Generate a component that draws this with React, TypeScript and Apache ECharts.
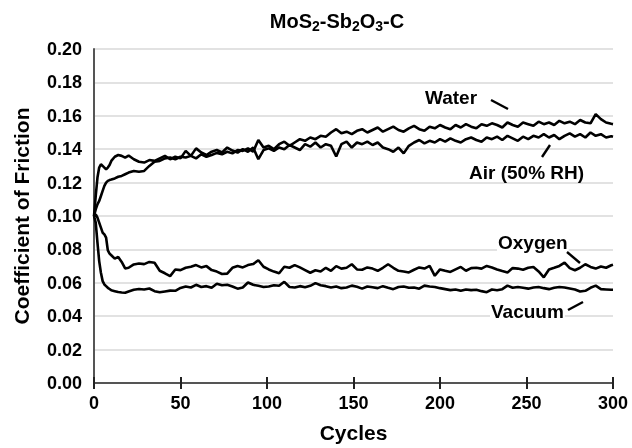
import React, { useEffect, useRef } from "react";
import * as echarts from "echarts";

const cycles = [
  0, 1, 2, 3, 4, 5, 6, 7, 8, 9, 10, 12, 14, 16, 18, 20,
  23, 26, 29, 32, 35, 38, 41, 44, 47, 50,
  53, 56, 59, 62, 65, 68, 71, 74, 77, 80,
  83, 86, 89, 92, 95, 98, 101, 104, 107, 110,
  113, 116, 119, 122, 125, 128, 131, 134, 137, 140,
  143, 146, 149, 152, 155, 158, 161, 164, 167, 170,
  173, 176, 179, 182, 185, 188, 191, 194, 197, 200,
  203, 206, 209, 212, 215, 218, 221, 224, 227, 230,
  233, 236, 239, 242, 245, 248, 251, 254, 257, 260,
  263, 266, 269, 272, 275, 278, 281, 284, 287, 290,
  293, 296, 299, 300,
];

const water = [
  0.100, 0.104, 0.107, 0.109, 0.112, 0.115, 0.118, 0.120, 0.121, 0.1215, 0.1218, 0.1225, 0.1235, 0.1240, 0.1250, 0.1260,
  0.1270, 0.1265, 0.1270, 0.1300, 0.1325, 0.1330, 0.1345, 0.1350, 0.1340, 0.1355,
  0.1350, 0.1360, 0.1345, 0.1370, 0.1355, 0.1365, 0.1378, 0.1370, 0.1385, 0.1375,
  0.1395, 0.1390, 0.1405, 0.1385, 0.1455, 0.1410, 0.1420, 0.1400, 0.1430, 0.1445,
  0.1420, 0.1440, 0.1460, 0.1450, 0.1470, 0.1460, 0.1480, 0.1475, 0.1500, 0.1520,
  0.1495, 0.1505, 0.1490, 0.1510, 0.1520, 0.1500, 0.1515, 0.1530, 0.1505, 0.1520,
  0.1535, 0.1515, 0.1505, 0.1525, 0.1540, 0.1520, 0.1510, 0.1535, 0.1525, 0.1545,
  0.1530, 0.1520, 0.1545, 0.1530, 0.1550, 0.1535, 0.1525, 0.1550, 0.1540, 0.1555,
  0.1545, 0.1530, 0.1560, 0.1545, 0.1535, 0.1560, 0.1550, 0.1540, 0.1565, 0.1550,
  0.1560, 0.1545, 0.1570, 0.1555, 0.1565, 0.1550, 0.1575, 0.1560, 0.1555, 0.1610,
  0.1580, 0.1560, 0.1552, 0.1550,
];

const air = [
  0.100, 0.112, 0.123, 0.129, 0.131, 0.130, 0.129, 0.128, 0.129, 0.1305, 0.1330, 0.1355, 0.1365, 0.1360, 0.1350, 0.1362,
  0.1340, 0.1325, 0.1320, 0.1335, 0.1330, 0.1345, 0.1360, 0.1340, 0.1355, 0.1345,
  0.1390, 0.1360, 0.1405, 0.1380, 0.1365, 0.1385, 0.1395, 0.1380, 0.1410, 0.1392,
  0.1380, 0.1400, 0.1385, 0.1410, 0.1340, 0.1395, 0.1405, 0.1390, 0.1410, 0.1400,
  0.1425, 0.1410, 0.1395, 0.1430, 0.1415, 0.1440, 0.1410, 0.1430, 0.1420, 0.1356,
  0.1430, 0.1445, 0.1410, 0.1440, 0.1430, 0.1445, 0.1425, 0.1440, 0.1410, 0.1400,
  0.1385, 0.1410, 0.1375, 0.1420, 0.1440, 0.1455, 0.1435, 0.1450, 0.1440, 0.1460,
  0.1445, 0.1465, 0.1450, 0.1440, 0.1460, 0.1470, 0.1455, 0.1445, 0.1470, 0.1460,
  0.1475, 0.1455, 0.1480, 0.1465, 0.1450, 0.1475, 0.1460, 0.1480, 0.1470, 0.1490,
  0.1470, 0.1485, 0.1460, 0.1480, 0.1495, 0.1475, 0.1490, 0.1470, 0.1500, 0.1480,
  0.1490, 0.1470, 0.1478, 0.1475,
];

const oxygen = [
  0.100, 0.101, 0.099, 0.096, 0.093, 0.090, 0.089, 0.087, 0.0794, 0.0775, 0.0765, 0.0745, 0.0755, 0.0725, 0.0686, 0.0690,
  0.0710, 0.0716, 0.0712, 0.0725, 0.0720, 0.0672, 0.0657, 0.0640, 0.0680, 0.0676,
  0.0690, 0.0696, 0.0706, 0.0692, 0.0700, 0.0676, 0.0667, 0.0653, 0.0655, 0.0690,
  0.0700, 0.0692, 0.0706, 0.0712, 0.0735, 0.0696, 0.0680, 0.0667, 0.0657, 0.0696,
  0.0690, 0.0706, 0.0692, 0.0676, 0.0660, 0.0675, 0.0668, 0.0690, 0.0672, 0.0700,
  0.0685, 0.0690, 0.0711, 0.0680, 0.0678, 0.0692, 0.0685, 0.0672, 0.0690, 0.0711,
  0.0690, 0.0672, 0.0668, 0.0662, 0.0678, 0.0692, 0.0685, 0.0701, 0.0642, 0.0680,
  0.0672, 0.0665, 0.0680, 0.0695, 0.0672, 0.0688, 0.0690, 0.0685, 0.0701, 0.0692,
  0.0680, 0.0670, 0.0662, 0.0688, 0.0685, 0.0678, 0.0690, 0.0695, 0.0668, 0.0633,
  0.0680, 0.0690, 0.0701, 0.0721, 0.0688, 0.0675, 0.0690, 0.0711, 0.0695, 0.0685,
  0.0698, 0.0690, 0.0705, 0.0708,
];

const vacuum = [
  0.100, 0.096, 0.084, 0.073, 0.066, 0.061, 0.059, 0.058, 0.057, 0.0563, 0.0555, 0.0550, 0.0545, 0.0542, 0.0540, 0.0548,
  0.0558, 0.0563, 0.0560, 0.0566, 0.0550, 0.0543, 0.0548, 0.0553, 0.0552, 0.0569,
  0.0578, 0.0572, 0.0588, 0.0575, 0.0580, 0.0570, 0.0594, 0.0585, 0.0588, 0.0578,
  0.0565, 0.0572, 0.0602, 0.0588, 0.0582, 0.0575, 0.0578, 0.0585, 0.0582, 0.0606,
  0.0575, 0.0572, 0.0580, 0.0573, 0.0582, 0.0598, 0.0585, 0.0580, 0.0572, 0.0578,
  0.0568, 0.0572, 0.0583, 0.0576, 0.0565, 0.0578, 0.0573, 0.0568, 0.0580, 0.0570,
  0.0562, 0.0575, 0.0578, 0.0570, 0.0572, 0.0565, 0.0583, 0.0578, 0.0575, 0.0568,
  0.0562, 0.0556, 0.0560, 0.0552, 0.0560, 0.0556, 0.0558, 0.0550, 0.0544, 0.0560,
  0.0555, 0.0562, 0.0583, 0.0570, 0.0575, 0.0570, 0.0565, 0.0572, 0.0575, 0.0568,
  0.0562, 0.0570, 0.0575, 0.0572, 0.0566, 0.0560, 0.0548, 0.0552, 0.0570, 0.0583,
  0.0562, 0.0560, 0.0558, 0.0558,
];

const seriesNames = ["Water", "Air (50% RH)", "Oxygen", "Vacuum"];

export default function App() {
  const ref = useRef<HTMLDivElement>(null);
  useEffect(() => {
    const chart = echarts.init(ref.current!, null, { renderer: "svg" });
    const font = "'Liberation Sans', Arial, Helvetica, sans-serif";
    const mk = (name: string, vals: number[]) => ({
      name,
      type: "line",
      data: cycles.map((c, i) => [c, vals[i]]),
      symbol: "none",
      showSymbol: false,
      silent: true,
      lineStyle: { color: "#000", width: 2.6 },
      itemStyle: { color: "#000" },
    });
    const lbl = (text: string, x: number, y: number) => ({
      type: "text",
      x,
      y,
      z: 10,
      style: {
        text,
        fill: "#000",
        font: `bold 19px ${font}`,
        align: "left",
        verticalAlign: "middle",
        backgroundColor: "#fff",
        padding: [0, 1, 0, 1],
      },
    });
    const leader = (x1: number, y1: number, x2: number, y2: number) => ({
      type: "line",
      z: 10,
      shape: { x1, y1, x2, y2 },
      style: { stroke: "#000", lineWidth: 2.4 },
    });
    chart.setOption({
      animation: false,
      grid: { left: 94, right: 19, top: 49, bottom: 61, containLabel: false },
      xAxis: [
        {
          type: "value",
          min: 0,
          max: 300,
          interval: 50,
          name: "Cycles",
          nameLocation: "middle",
          nameGap: 39,
          nameTextStyle: { fontFamily: font, fontWeight: "bold", fontSize: 21, color: "#000" },
          axisLine: { show: true, lineStyle: { color: "#555", width: 2 } },
          axisTick: { show: true, length: 6, lineStyle: { color: "#222", width: 2 } },
          axisLabel: { fontFamily: font, fontWeight: "bold", fontSize: 18, color: "#000", margin: 11 },
          splitLine: { show: false },
        },
        {
          type: "value",
          position: "bottom",
          min: 0,
          max: 300,
          interval: 50,
          axisLine: { show: false },
          axisTick: { show: true, inside: true, length: 6, lineStyle: { color: "#222", width: 2 } },
          axisLabel: { show: false },
          splitLine: { show: false },
        },
      ],
      yAxis: {
        type: "value",
        min: 0,
        max: 0.2,
        interval: 0.02,
        name: "Coefficient of Friction",
        nameLocation: "middle",
        nameGap: 62,
        nameTextStyle: { fontFamily: font, fontWeight: "bold", fontSize: 21, color: "#000" },
        axisLine: { show: true, lineStyle: { color: "#555", width: 2 } },
        axisTick: { show: false },
        axisLabel: {
          fontFamily: font,
          fontWeight: "bold",
          fontSize: 18,
          color: "#000",
          margin: 12,
          formatter: (v: number) => v.toFixed(2),
        },
        splitLine: { show: true, lineStyle: { color: "#d9d9d9", width: 1.5 } },
      },
      series: [
        mk(seriesNames[0], water),
        mk(seriesNames[1], air),
        mk(seriesNames[2], oxygen),
        mk(seriesNames[3], vacuum),
      ],
      graphic: [
        {
          type: "text",
          x: 337,
          y: 21,
          style: {
            text: "{m|MoS}{s|2}{m|-Sb}{s|2}{m|O}{s|3}{m|-C}",
            align: "center",
            verticalAlign: "middle",
            fill: "#000",
            rich: {
              m: { fontFamily: font, fontWeight: "bold", fontSize: 20, fill: "#000" },
              s: { fontFamily: font, fontWeight: "bold", fontSize: 14, fill: "#000", padding: [9, 0, 0, 0] },
            },
          },
        },
        lbl(seriesNames[0], 424, 97),
        leader(491, 100, 508, 109),
        lbl(seriesNames[1], 468, 172),
        leader(542, 157, 550, 145),
        lbl(seriesNames[2], 497, 242),
        leader(567, 252, 580, 263),
        lbl(seriesNames[3], 490, 311),
        leader(568, 310, 583, 302),
      ],
    });
    return () => chart.dispose();
  }, []);
  return <div ref={ref} style={{ position: "fixed", left: 0, top: 0, width: 632, height: 448 }} />;
}
